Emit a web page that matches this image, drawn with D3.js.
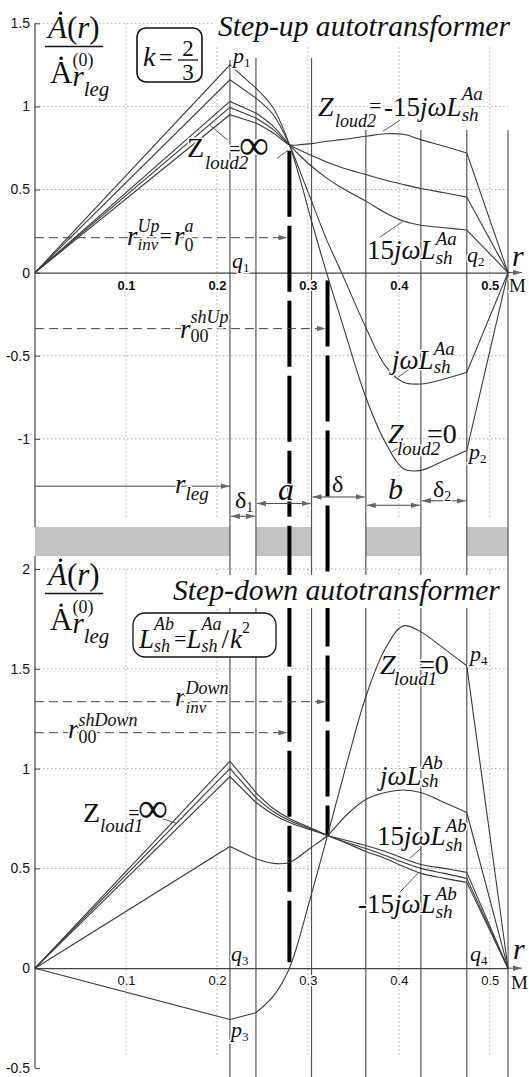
<!DOCTYPE html>
<html><head><meta charset="utf-8">
<script src="https://cdn.jsdelivr.net/npm/d3@7"></script>
<style>
body{margin:0;background:#fff;}
svg text{font-family:"Liberation Serif","Times New Roman",serif;fill:#111;}
svg .tick text{font-family:"Liberation Sans",Arial,sans-serif;}
</style></head><body>
<svg id="chart" width="529" height="1077"></svg>
<script>
// Radial boundaries, m: leg, gap δ1, winding a, gap δ, winding b, gap δ2, tank
const boundaries = [0.2143, 0.2429, 0.304, 0.3637, 0.4242, 0.4747, 0.52];
const rInvUp = 0.2797;      // common crossing point of the step-up curves
const rInvDown = 0.3216;    // common crossing point of the step-down curves
const xTicks = [0.1, 0.2, 0.3, 0.4, 0.5];
const yTicksUp = [1.5, 1, 0.5, 0, -0.5, -1];
const yTicksDown = [2, 1.5, 1, 0.5, 0, -0.5];

// Step-up autotransformer, A(r)/A(0) for several Z_loud2
const rUp = [0, 0.2143, 0.2429, 0.262, 0.2797, 0.292, 0.304, 0.3205, 0.337, 0.3637, 0.385, 0.405, 0.4242, 0.45, 0.4747, 0.52];
const upZero = [0, 1.25, 1.11, 0.99, 0.769, 0.55, 0.31, 0, -0.29, -0.75, -1.02, -1.18, -1.19, -1.13, -1.07, 0];
const upJw   = [0, 1.16, 1.05, 0.95, 0.769, 0.60, 0.43, 0.2, 0, -0.33, -0.56, -0.66, -0.67, -0.64, -0.60, 0];
const upP15  = [0, 1.03, 0.96, 0.88, 0.769, 0.70, 0.64, 0.57, 0.51, 0.43, 0.36, 0.31, 0.285, 0.27, 0.256, 0];
const upInf  = [0, 0.994, 0.93, 0.86, 0.769, 0.735, 0.705, 0.665, 0.632, 0.59, 0.557, 0.53, 0.506, 0.48, 0.454, 0];
const upM15  = [0, 0.95, 0.90, 0.84, 0.769, 0.77, 0.776, 0.79, 0.80, 0.82, 0.835, 0.832, 0.80, 0.76, 0.72, 0];

// Step-down autotransformer, A(r)/A(0) for several Z_loud1
const rDown = [0, 0.2143, 0.2429, 0.262, 0.2797, 0.302, 0.3216, 0.343, 0.3637, 0.385, 0.405, 0.4242, 0.45, 0.4747, 0.52];
const downZero = [0, -0.257, -0.223, -0.14, 0, 0.34, 0.665, 1.03, 1.36, 1.6, 1.715, 1.685, 1.6, 1.515, 0];
const downJw   = [0, 0.61, 0.548, 0.525, 0.53, 0.6, 0.665, 0.77, 0.845, 0.88, 0.893, 0.88, 0.83, 0.78, 0];
const downP15  = [0, 0.96, 0.83, 0.77, 0.73, 0.695, 0.665, 0.64, 0.615, 0.585, 0.55, 0.52, 0.50, 0.48, 0];
const downInf  = [0, 1.0, 0.855, 0.785, 0.74, 0.70, 0.665, 0.63, 0.60, 0.565, 0.53, 0.50, 0.475, 0.45, 0];
const downM15  = [0, 1.037, 0.88, 0.80, 0.75, 0.705, 0.665, 0.625, 0.585, 0.55, 0.51, 0.475, 0.45, 0.43, 0];

const svg = d3.select('#chart');
const x = d3.scaleLinear().domain([0, 0.52]).range([35, 508]);
const yUp = d3.scaleLinear().domain([-1, 1.5]).range([438.8, 23.3]);
const yDn = d3.scaleLinear().domain([-0.5, 2]).range([1068, 569]);

const defs = svg.append('defs');
defs.append('marker').attr('id', 'arr').attr('viewBox', '0 0 10 6')
  .attr('refX', 10).attr('refY', 3).attr('markerWidth', 9).attr('markerHeight', 5.5)
  .attr('markerUnits', 'userSpaceOnUse').attr('orient', 'auto-start-reverse')
  .append('path').attr('d', 'M0,0L10,3L0,6Z').attr('fill', '#666');

// dotted grid
const grid = svg.append('g').attr('stroke', '#999').attr('stroke-width', 0.8).attr('stroke-dasharray', '1.5,2.5');
xTicks.forEach(t => {
  grid.append('line').attr('x1', x(t)).attr('x2', x(t)).attr('y1', yUp(1.5)).attr('y2', 518);
  grid.append('line').attr('x1', x(t)).attr('x2', x(t)).attr('y1', yDn(2)).attr('y2', 1055);
});
yTicksUp.filter(t => t !== 0).forEach(t =>
  grid.append('line').attr('x1', x(0)).attr('x2', x(0.52)).attr('y1', yUp(t)).attr('y2', yUp(t)));
yTicksDown.filter(t => t > 0).forEach(t =>
  grid.append('line').attr('x1', x(0)).attr('x2', x(0.52)).attr('y1', yDn(t)).attr('y2', yDn(t)));

// cross-section strip: leg and windings shaded
const bandSpans = [[0, boundaries[0]], [boundaries[1], boundaries[2]], [boundaries[3], boundaries[4]], [boundaries[5], boundaries[6]]];
svg.append('g').selectAll('rect').data(bandSpans).join('rect')
  .attr('x', d => x(d[0])).attr('width', d => x(d[1]) - x(d[0]))
  .attr('y', 527).attr('height', 29).attr('fill', '#c2c2c2');

// region boundaries
const boundTop = [60, 58, 58, 130, 130, 130, 130];
svg.append('g').selectAll('line').data(boundaries).join('line')
  .attr('x1', d => x(d)).attr('x2', d => x(d))
  .attr('y1', (d, i) => boundTop[i]).attr('y2', 1077)
  .attr('stroke', '#555').attr('stroke-width', 1.2);

// axes
function yAxis(scale, ticks, top, bottom) {
  const g = svg.append('g').attr('transform', `translate(${x(0)},0)`)
    .call(d3.axisLeft(scale).tickValues(ticks).tickFormat(d => String(d)).tickSize(-5).tickPadding(5));
  g.select('.domain').remove();
  g.selectAll('.tick line').attr('stroke', '#444');
  g.selectAll('.tick text').attr('font-size', 14).style('fill', '#111');
  svg.append('line').attr('x1', x(0)).attr('x2', x(0)).attr('y1', top).attr('y2', bottom).attr('stroke', '#444').attr('stroke-width', 1.2);
}
yAxis(yUp, yTicksUp, yUp(1.5), 527);
yAxis(yDn, yTicksDown, 556, yDn(-0.5));

function xAxis(scale, bold) {
  const g = svg.append('g').attr('transform', `translate(0,${scale(0)})`)
    .call(d3.axisBottom(x).tickValues(xTicks).tickFormat(d => String(d)).tickSize(0).tickPadding(8));
  g.select('.domain').attr('stroke', '#444').attr('stroke-width', 1.2);
  g.selectAll('.tick text').attr('font-size', 13)
    .attr('font-weight', bold ? 'bold' : 'normal').style('fill', '#111')
    .style('paint-order', 'stroke').attr('stroke', '#fff').attr('stroke-width', 3);
  svg.append('line').attr('x1', x(0.52)).attr('x2', x(0.52) + 14).attr('y1', scale(0)).attr('y2', scale(0))
    .attr('stroke', '#444').attr('stroke-width', 1).attr('marker-end', 'url(#arr)');
}
xAxis(yUp, true);
xAxis(yDn, false);

// thick dashed verticals at the two special radii
svg.append('line').attr('x1', x(rInvUp)).attr('x2', x(rInvUp)).attr('y1', yUp(0.769) + 6).attr('y2', yDn(0.03))
  .attr('stroke', '#000').attr('stroke-width', 4).attr('stroke-dasharray', '66,9');
svg.append('line').attr('x1', x(rInvDown)).attr('x2', x(rInvDown)).attr('y1', yUp(0) + 8).attr('y2', yDn(0.665))
  .attr('stroke', '#000').attr('stroke-width', 4).attr('stroke-dasharray', '66,9');

// horizontal leaders to the special radii
function leader(yv, xEnd, dashed) {
  svg.append('line').attr('x1', x(0)).attr('x2', xEnd).attr('y1', yv).attr('y2', yv)
    .attr('stroke', '#444').attr('stroke-width', 1).attr('stroke-dasharray', dashed ? '9,5' : null)
    .attr('marker-end', 'url(#arr)');
}
leader(yUp(0.21), x(rInvUp) - 2, true);
leader(yUp(-0.337), x(rInvDown) - 2, true);
leader(yUp(-1.285), x(boundaries[0]), false);
leader(yDn(1.335), x(rInvDown) - 2, true);
leader(yDn(1.18), x(rInvUp) - 2, true);

// dimension arrows between boundaries
const dims = [[boundaries[0], boundaries[1], -1.466], [boundaries[1], boundaries[2], -1.389],
  [boundaries[2], boundaries[3], -1.35], [boundaries[3], boundaries[4], -1.40], [boundaries[4], boundaries[5], -1.373]];
svg.append('g').selectAll('line').data(dims).join('line')
  .attr('x1', d => x(d[0]) + 1).attr('x2', d => x(d[1]) - 1)
  .attr('y1', d => yUp(d[2])).attr('y2', d => yUp(d[2]))
  .attr('stroke', '#444').attr('stroke-width', 1)
  .attr('marker-start', 'url(#arr)').attr('marker-end', 'url(#arr)');

// curves: straight in leg and gap δ1, smooth through the windings, straight to the tank
function drawCurve(rs, vs, yScale) {
  const pts = rs.map((r, i) => [x(r), yScale(vs[i])]);
  const n = pts.length;
  const lin = d3.line();
  const smooth = d3.line().curve(d3.curveCatmullRom.alpha(0.5));
  const g = svg.append('g').attr('fill', 'none').attr('stroke', '#3a3a3a').attr('stroke-width', 1.1);
  g.append('path').attr('d', lin(pts.slice(0, 3)));
  g.append('path').attr('d', smooth(pts.slice(2, n - 1)));
  g.append('path').attr('d', lin(pts.slice(n - 2)));
}
[upZero, upJw, upP15, upInf, upM15].forEach(v => drawCurve(rUp, v, yUp));
[downZero, downJw, downP15, downInf, downM15].forEach(v => drawCurve(rDown, v, yDn));

// pointer lines from labels to curves
const pointersUp = [[0.1923, 0.886, 0.2121, 0.796], [0.266, 0.687, 0.278, 0.735], [0.3824, 0.850, 0.4011, 0.916],
  [0.379, 0.212, 0.4044, 0.308], [0.399, -0.63, 0.4143, -0.57], [0.392, -1.08, 0.4066, -1.03]];
const pointersDown = [[0.1396, 0.75, 0.156, 0.725], [0.412, 0.55, 0.4253, 0.605], [0.401, 0.38, 0.4209, 0.475]];
function pointers(list, ys) {
  svg.append('g').selectAll('line').data(list).join('line')
    .attr('x1', d => x(d[0])).attr('y1', d => ys(d[1])).attr('x2', d => x(d[2])).attr('y2', d => ys(d[3]))
    .attr('stroke', '#444').attr('stroke-width', 0.9);
}
pointers(pointersUp, yUp);
pointers(pointersDown, yDn);

// ---------- text ----------
const it = (t, s, dy = 0, o = {}) => Object.assign({ t, s, dy, i: true }, o);
const rm = (t, s, dy = 0, o = {}) => Object.assign({ t, s, dy, i: false }, o);
const stack = (a, b) => ({ stack: [a, b] });

function layout(g, x0, y0, toks) {
  let cx = x0;
  for (const tk of toks) {
    if (tk.at !== undefined) cx = tk.at;
    if (tk.stack) {
      let w = 0;
      tk.stack.forEach(seq => { w = Math.max(w, layout(g, cx, y0, seq) - cx); });
      cx += w;
      continue;
    }
    const t = g.append('text').attr('x', cx).attr('y', y0 + tk.dy)
      .attr('font-size', tk.s).attr('font-style', tk.i ? 'italic' : 'normal').text(tk.t);
    const w = t.node().getComputedTextLength();
    if (tk.dot) g.append('circle').attr('cx', cx + w * 0.5 + (tk.i ? tk.s * 0.1 : 0))
      .attr('cy', y0 + tk.dy - tk.s * 0.8).attr('r', tk.s * 0.055).attr('fill', '#111');
    cx += w + (tk.k || 0);
  }
  return cx;
}
function label(x0, y0, toks, halo = true) {
  const g = svg.append('g');
  if (halo) g.attr('stroke', '#fff').attr('stroke-width', 3).attr('stroke-linejoin', 'round').style('paint-order', 'stroke');
  layout(g, x0, y0, toks);
  return g;
}
function fitTitle(x0, y0, str, width, box) {
  svg.append('rect').attr('x', box[0]).attr('y', box[1]).attr('width', box[2]).attr('height', box[3]).attr('fill', '#fff');
  const t = svg.append('text').attr('x', x0).attr('y', y0).attr('font-style', 'italic').attr('font-size', 28).text(str);
  const w = t.node().getComputedTextLength();
  t.attr('font-size', 28 * width / w);
}
function ratioLabel(dy) {
  label(48, 38 + dy, [it('A', 31, 0, { dot: true }), rm('(', 31), it('r', 31), rm(')', 31)], false);
  svg.append('line').attr('x1', 45).attr('x2', 103).attr('y1', 46.5 + dy).attr('y2', 46.5 + dy).attr('stroke', '#111').attr('stroke-width', 1.4);
  label(50, 83 + dy, [rm('A', 31, 0, { dot: true }), stack([rm('(0)', 18, -17)], [it('r', 29, 3), it('leg', 21, 13)])], false);
}
const sub = (t, s = 13) => rm(t, s, 4);

// --- step-up panel ---
fitTitle(218, 36, 'Step-up autotransformer', 292, [214, 12, 300, 33]);
ratioLabel(0);
svg.append('rect').attr('x', 137).attr('y', 28).attr('width', 65).attr('height', 54).attr('rx', 9)
  .attr('fill', '#fff').attr('stroke', '#111').attr('stroke-width', 1.6);
label(143, 66, [it('k', 28), rm('=', 24, -1, { at: 159 })], false);
svg.append('text').attr('x', 188).attr('y', 56).attr('text-anchor', 'middle').attr('font-size', 23).text('2');
svg.append('line').attr('x1', 178).attr('x2', 198).attr('y1', 60).attr('y2', 60).attr('stroke', '#111').attr('stroke-width', 1.3);
svg.append('text').attr('x', 188).attr('y', 80).attr('text-anchor', 'middle').attr('font-size', 23).text('3');

label(233, 63, [it('p', 22), sub('1')]);
label(187, 157, [rm('Z', 28), it('loud2', 19, 12, { at: 205 }), rm('=', 22, -1, { at: 229 }), rm('∞', 42, 2, { at: 239 })]);
label(318, 116, [it('Z', 28), it('loud2', 18, 11, { at: 335 }), rm('=', 22, -3, { at: 369 }), rm('-15', 27, 0, { at: 384 }),
  it('j', 27), it('ω', 27), it('L', 27), stack([it('Aa', 19, -16)], [it('sh', 19, 5)])]);
label(367, 259, [rm('15', 27), it('j', 27), it('ω', 27), it('L', 27), stack([it('Aa', 19, -14)], [it('sh', 19, 5)])]);
label(232, 268, [it('q', 22), sub('1')]);
label(467, 262, [it('q', 22), sub('2')]);
label(512, 266, [it('r', 30)]);
label(509, 292, [rm('M', 19)]);
label(392, 369, [it('j', 27), it('ω', 27), it('L', 27), stack([it('Aa', 19, -14)], [it('sh', 19, 4)])]);
label(388, 443, [it('Z', 28), it('loud2', 19, 12, { at: 397 }), rm('=', 28, 0, { at: 427 }), rm('0', 28)]);
label(469, 459, [it('p', 22), sub('2')]);
label(127, 245, [it('r', 27), stack([it('Up', 18, -13)], [it('inv', 17, 5)]), rm('=', 22, -2, { k: 2 }), it('r', 27),
  stack([it('a', 18, -13)], [rm('0', 18, 6)])]);
label(180, 338, [it('r', 27), stack([it('shUp', 18, -15)], [rm('00', 18, 4)])]);
label(175, 493, [it('r', 27), it('leg', 19, 7)]);
label(235, 508, [rm('δ', 24), sub('1', 14)]);
label(278, 500, [it('a', 32)]);
label(332, 492, [rm('δ', 24)]);
label(388, 499, [it('b', 30)]);
label(433, 497, [rm('δ', 24), sub('2', 14)]);

// --- step-down panel ---
fitTitle(173, 600, 'Step-down autotransformer', 327, [168, 575, 338, 33]);
ratioLabel(547);
svg.append('rect').attr('x', 133).attr('y', 613).attr('width', 143).attr('height', 44).attr('rx', 12)
  .attr('fill', '#fff').attr('stroke', '#111').attr('stroke-width', 1.3);
label(139, 648, [it('L', 27), stack([it('Ab', 18, -18)], [it('sh', 18, 4)]), rm('=', 22, -2), it('L', 27),
  stack([it('Aa', 18, -18)], [it('sh', 18, 4)]), rm('/', 27, 0, { k: 1 }), it('k', 27), rm('2', 16, -15)], false);
label(175, 706, [it('r', 27), stack([it('Down', 18, -12)], [it('inv', 17, 7)])]);
label(68, 738, [it('r', 27), stack([it('shDown', 18, -12)], [rm('00', 18, 5)])]);
label(380, 674, [it('Z', 28), it('loud1', 19, 11, { at: 394 }), rm('=', 28, 0, { at: 419 }), rm('0', 28)]);
label(470, 661, [it('p', 22), sub('4')]);
label(380, 785, [it('j', 27), it('ω', 27), it('L', 27), stack([it('Ab', 19, -16)], [it('sh', 19, 2)])]);
label(377, 845, [rm('15', 27), it('j', 27), it('ω', 27), it('L', 27), stack([it('Ab', 19, -13)], [it('sh', 19, 6)])]);
label(358, 913, [rm('-15', 27), it('j', 27), it('ω', 27), it('L', 27), stack([it('Ab', 19, -13)], [it('sh', 19, 5)])]);
label(83, 822, [rm('Z', 28), it('loud1', 19, 10, { at: 100 }), rm('=', 22, -2, { at: 128 }), rm('∞', 42, 0, { at: 138 })]);
label(231, 961, [it('q', 22), sub('3')]);
label(231, 1037, [it('p', 22), sub('3')]);
label(470, 961, [it('q', 22), sub('4')]);
label(513, 959, [it('r', 30)]);
label(511, 989, [rm('M', 19)]);
</script>
</body></html>
